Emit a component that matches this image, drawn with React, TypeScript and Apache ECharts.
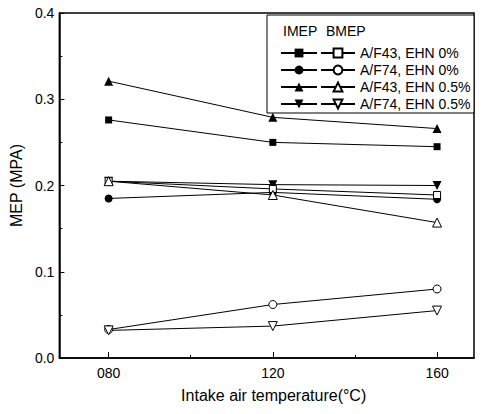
import React, { useEffect, useRef } from "react";
import * as echarts from "echarts";

const temps = [80, 120, 160];
const labels = ["A/F43, EHN 0%", "A/F74, EHN 0%", "A/F43, EHN 0.5%", "A/F74, EHN 0.5%"];
const imepAF43_0 = [0.276, 0.25, 0.245];
const imepAF74_0 = [0.185, 0.192, 0.184];
const imepAF43_05 = [0.321, 0.279, 0.266];
const imepAF74_05 = [0.205, 0.201, 0.2];
const bmepAF43_0 = [0.205, 0.196, 0.189];
const bmepAF74_0 = [0.033, 0.062, 0.08];
const bmepAF43_05 = [0.205, 0.189, 0.157];
const bmepAF74_05 = [0.032, 0.037, 0.055];
const xMajorTicks = [80, 120, 160];
const xMinorTicks = [100, 140];

const FONT = "'Liberation Sans', Arial, sans-serif";
const INV_TRI = "path://M0,0L10,0L5,9Z";
const symbols = ["rect", "circle", "triangle", INV_TRI];
const symbolSizes = [7, 8, 9, 9];

export default function App() {
  const ref = useRef<HTMLDivElement>(null);
  useEffect(() => {
    if (!ref.current) return;
    const chart = echarts.init(ref.current, null, { renderer: "svg" });
    const imep = [imepAF43_0, imepAF74_0, imepAF43_05, imepAF74_05];
    const bmep = [bmepAF43_0, bmepAF74_0, bmepAF43_05, bmepAF74_05];
    const series: any[] = [];
    imep.forEach((vals, i) => {
      series.push({
        name: labels[i] + " IMEP",
        type: "line",
        data: temps.map((t, k) => [t, vals[k]]),
        symbol: symbols[i],
        symbolSize: symbolSizes[i],
        showAllSymbol: true,
        itemStyle: { color: "#000", borderColor: "#000", borderWidth: 0 },
        lineStyle: { color: "#000", width: 1 },
        xAxisIndex: 0,
      });
    });
    bmep.forEach((vals, i) => {
      series.push({
        name: labels[i],
        type: "line",
        data: temps.map((t, k) => [t, vals[k]]),
        symbol: symbols[i],
        symbolSize: symbolSizes[i],
        itemStyle: { color: "#fff", borderColor: "#000", borderWidth: 1 },
        lineStyle: { color: "#000", width: 1 },
        xAxisIndex: 0,
      });
    });
    chart.setOption({
      animation: false,
      backgroundColor: "#fff",
      textStyle: { fontFamily: FONT, color: "#000" },
      grid: {
        left: 59,
        top: 13,
        right: 10,
        bottom: 56,
        show: true,
        borderColor: "#000",
        borderWidth: 1.5,
        backgroundColor: "transparent",
      },
      xAxis: [
        {
          type: "value",
          min: 68,
          max: 169,
          position: "bottom",
          axisLine: { show: true, onZero: false, lineStyle: { color: "#000", width: 1.5 } },
          axisTick: { show: true, inside: true, length: 6, customValues: xMajorTicks, lineStyle: { color: "#000", width: 1 } },
          axisLabel: {
            customValues: xMajorTicks,
            formatter: (v: number) => String(v).padStart(3, "0"),
            color: "#000",
            fontSize: 14,
            margin: 8,
            fontFamily: FONT,
          },
          splitLine: { show: false },
          name: "Intake air temperature(°C)",
          nameLocation: "middle",
          nameGap: 29,
          nameTextStyle: { fontSize: 16, color: "#000", fontFamily: FONT, padding: [0, 0, 0, 14] },
        },
        {
          type: "value",
          min: 68,
          max: 169,
          position: "bottom",
          axisLine: { show: false },
          axisTick: { show: true, inside: true, length: 3, customValues: xMinorTicks, lineStyle: { color: "#000", width: 1 } },
          axisLabel: { show: false },
          splitLine: { show: false },
        },
      ],
      yAxis: {
        type: "value",
        min: 0,
        max: 0.4,
        interval: 0.1,
        axisLine: { show: true, lineStyle: { color: "#000", width: 1.5 } },
        axisTick: { show: true, inside: true, length: 5, lineStyle: { color: "#000" } },
        minorTick: { show: true, splitNumber: 2, length: 3, lineStyle: { color: "#000" } },
        axisLabel: {
          formatter: (v: number) => v.toFixed(1),
          color: "#000",
          fontSize: 14,
          margin: 5,
          fontFamily: FONT,
        },
        splitLine: { show: false },
        name: "MEP (MPA)",
        nameLocation: "middle",
        nameGap: 29,
        nameTextStyle: { fontSize: 16, color: "#000", fontFamily: FONT },
      },
      legend: [
        {
          data: series.slice(0, 4).map((s) => s.name),
          orient: "vertical",
          left: 280,
          top: 46,
          itemWidth: 36,
          itemHeight: 11,
          itemGap: 3,
          padding: 0,
          selectedMode: false,
          formatter: () => " ",
          textStyle: { fontSize: 14, lineHeight: 14, fontFamily: FONT },
        },
        {
          data: series.slice(4).map((s) => s.name),
          orient: "vertical",
          left: 320,
          top: 46,
          itemWidth: 34,
          itemHeight: 11,
          itemGap: 3,
          padding: 0,
          selectedMode: false,
          textStyle: { fontSize: 14, lineHeight: 14, color: "#000", fontFamily: FONT },
        },
      ],
      graphic: [
        {
          type: "rect",
          shape: { x: 267, y: 15, width: 207, height: 98 },
          style: { fill: "#fff", stroke: "#000", lineWidth: 1 },
          z: 0,
          silent: true,
        },
        {
          type: "text",
          x: 283,
          y: 24,
          style: { text: "IMEP", fontSize: 14, fontFamily: FONT, fill: "#000" },
          z: 1,
        },
        {
          type: "text",
          x: 326,
          y: 24,
          style: { text: "BMEP", fontSize: 14, fontFamily: FONT, fill: "#000" },
          z: 1,
        },
      ],
      series,
    });
    return () => chart.dispose();
  }, []);
  return <div ref={ref} style={{ width: 484, height: 414, position: "absolute", left: 0, top: 0 }} />;
}
